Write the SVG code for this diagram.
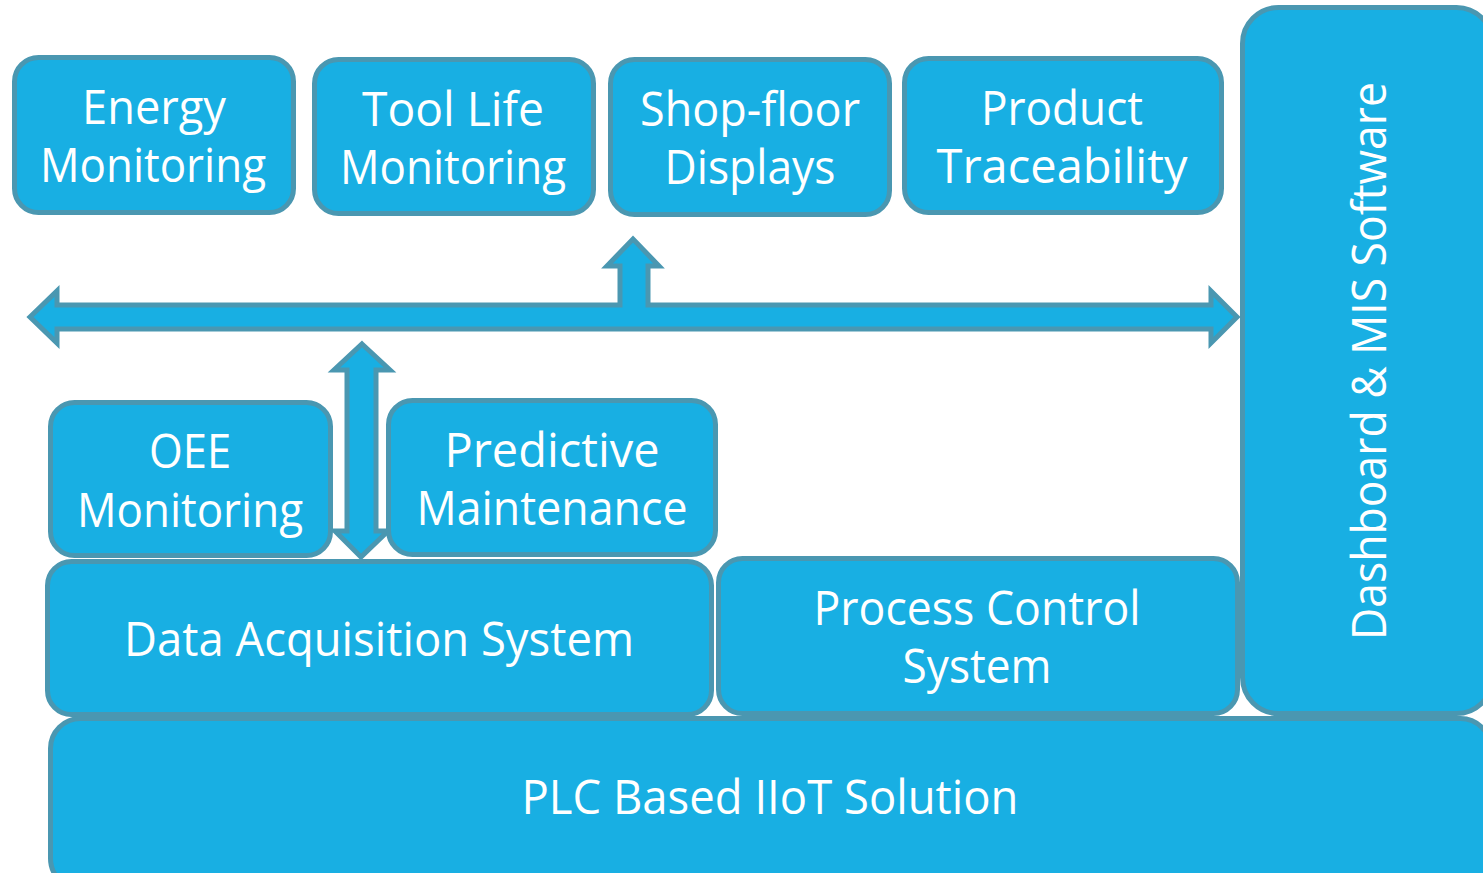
<svg xmlns="http://www.w3.org/2000/svg" width="1483" height="873" viewBox="0 0 1483 873">
<style>
.box{fill:#18AFE3;stroke:#4A97B1;stroke-width:5}
.arr{fill:#18AFE3;stroke:#4A97B1;stroke-width:5;stroke-linejoin:miter}
text{font-family:"Open Sans","DejaVu Sans",sans-serif;font-size:47px;fill:#ffffff;text-anchor:middle}
</style>
<rect width="1483" height="873" fill="#ffffff"/>
<g id="dashboard"><rect class="box" x="1242.5" y="7.5" width="250" height="706" rx="36"/>
<text transform="translate(1386,361) rotate(-90)" textLength="558" lengthAdjust="spacingAndGlyphs">Dashboard &amp; MIS Software</text></g>
<g id="energy"><rect class="box" x="14.5" y="57.5" width="279" height="155" rx="24"/>
<text x="154" y="124" textLength="144" lengthAdjust="spacingAndGlyphs">Energy</text>
<text x="153" y="182" textLength="226" lengthAdjust="spacingAndGlyphs">Monitoring</text></g>
<g id="toollife"><rect class="box" x="314.5" y="59.5" width="279" height="154" rx="24"/>
<text x="453" y="126" textLength="182" lengthAdjust="spacingAndGlyphs">Tool Life</text>
<text x="453" y="184" textLength="226" lengthAdjust="spacingAndGlyphs">Monitoring</text></g>
<g id="shopfloor"><rect class="box" x="610.5" y="59.5" width="279" height="155" rx="24"/>
<text x="750" y="126" textLength="220" lengthAdjust="spacingAndGlyphs">Shop-floor</text>
<text x="750" y="184" textLength="171" lengthAdjust="spacingAndGlyphs">Displays</text></g>
<g id="product"><rect class="box" x="904.5" y="58.5" width="317" height="154" rx="24"/>
<text x="1062" y="125" textLength="162" lengthAdjust="spacingAndGlyphs">Product</text>
<text x="1062" y="183" textLength="251" lengthAdjust="spacingAndGlyphs">Traceability</text></g>
<g id="connectors">
<polygon class="arr" points="30,317 57,291 57,305 620,305 620,266 607,266 633,239 659,266 648,266 648,305 1211,305 1211,291 1237,317 1211,343 1211,329 57,329 57,343"/>
<polygon class="arr" points="362,344 390,370 376,370 376,531 388,531 361,557 335,531 347,531 347,370 334,370"/>
</g>
<g id="oee"><rect class="box" x="50.5" y="402.5" width="280" height="153" rx="24"/>
<text x="190" y="468" textLength="82" lengthAdjust="spacingAndGlyphs">OEE</text>
<text x="190" y="527" textLength="226" lengthAdjust="spacingAndGlyphs">Monitoring</text></g>
<g id="predictive"><rect class="box" x="388.5" y="400.5" width="327" height="154" rx="24"/>
<text x="552" y="467" textLength="215" lengthAdjust="spacingAndGlyphs">Predictive</text>
<text x="552" y="525" textLength="271" lengthAdjust="spacingAndGlyphs">Maintenance</text></g>
<g id="daq"><rect class="box" x="47.5" y="561.5" width="664" height="153" rx="24"/>
<text x="379" y="656" textLength="510" lengthAdjust="spacingAndGlyphs">Data Acquisition System</text></g>
<g id="process"><rect class="box" x="718.5" y="558.5" width="519" height="155" rx="24"/>
<text x="977" y="625" textLength="327" lengthAdjust="spacingAndGlyphs">Process Control</text>
<text x="977" y="683" textLength="149" lengthAdjust="spacingAndGlyphs">System</text></g>
<g id="plc"><rect class="box" x="50.5" y="718.5" width="1440" height="170" rx="30"/>
<text x="770" y="814" textLength="497" lengthAdjust="spacingAndGlyphs">PLC Based IIoT Solution</text></g>
</svg>
